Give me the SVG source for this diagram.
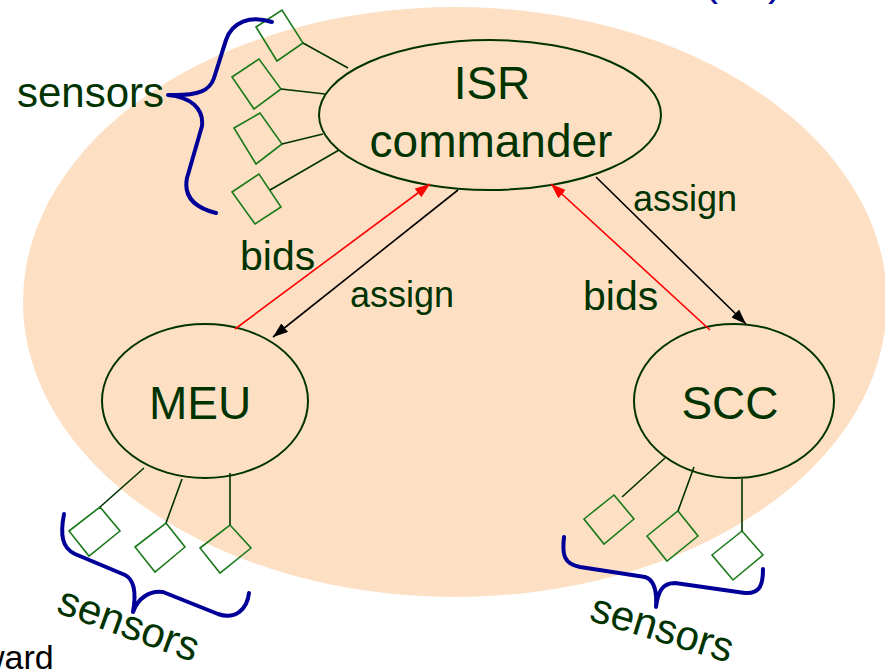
<svg xmlns="http://www.w3.org/2000/svg" width="885" height="671" viewBox="0 0 885 671">
<style>
text{font-family:"Liberation Sans",Arial,sans-serif;fill:#003300}
.node{fill:none;stroke:#003300;stroke-width:2}
.sq{fill:none;stroke:#1a7a1a;stroke-width:1.6}
.wire{stroke:#003300;stroke-width:1.6;fill:none}
.brace{fill:none;stroke:#000099;stroke-width:4;stroke-linecap:round;stroke-linejoin:round}
.lbl{font-size:46px;text-anchor:middle}
.sn{font-size:42px}
.red{stroke:#ff0000;stroke-width:1.6;fill:none}
.blk{stroke:#000000;stroke-width:1.6;fill:none}
</style>
<defs>
<marker id="ahR" markerUnits="userSpaceOnUse" viewBox="0 0 15 11" markerWidth="15" markerHeight="11" refX="15" refY="5.5" orient="auto"><path d="M0,0 L15,5.5 L0,11 z" fill="#ff0000"/></marker>
<marker id="ahK" markerUnits="userSpaceOnUse" viewBox="0 0 15 11" markerWidth="15" markerHeight="11" refX="15" refY="5.5" orient="auto"><path d="M0,0 L15,5.5 L0,11 z" fill="#000000"/></marker>
</defs>

<ellipse id="domain" cx="455" cy="302" rx="432" ry="295" fill="#fde0c4"/>

<text x="704" y="-5" font-size="42" style="fill:#000099">(</text>
<text x="768" y="-5" font-size="42" style="fill:#000099">)</text>

<g id="isr-sensors">
<polygon class="sq" points="256,27 282,10 303,43 277,61"/>
<polygon class="sq" points="232,77 259,59 281,89 254,109"/>
<polygon class="sq" points="234,128 260,113 282,144 256,164"/>
<polygon class="sq" points="232,192 259,174 281,207 255,224"/>
<path class="wire" d="M303,43 L348,68 M281,89 L325,94 M282,144 L323,134 M270,190 L339,150"/>
<path class="brace" d="M272,22 C250,15 232,22 226,40 L214,78 C210,90 200,96 168,95 C190,97 204,108 202,126 L187,178 C183,198 196,208 216,213"/>
<text class="sn" x="17" y="107">sensors</text>
</g>

<g id="isr">
<ellipse class="node" cx="490" cy="115" rx="171" ry="75"/>
<text class="lbl" x="492" y="99">ISR</text>
<text class="lbl" x="491" y="157">commander</text>
</g>

<g id="meu">
<ellipse class="node" cx="205" cy="401" rx="103" ry="77"/>
<text class="lbl" x="200" y="419">MEU</text>
</g>

<g id="scc">
<ellipse class="node" cx="734" cy="401" rx="100" ry="77"/>
<text class="lbl" x="730" y="419">SCC</text>
</g>

<g id="meu-sensors">
<polygon class="sq" points="100,507 120,531 89,556 69,531"/>
<polygon class="sq" points="166,523 185,547 155,572 135,547"/>
<polygon class="sq" points="230,525 251,548 220,573 200,548"/>
<path class="wire" d="M144,468 L100,507 M182,479 L166,523 M230,473 L230,525"/>
<path class="brace" d="M64,514 C60,535 62,548 75,554 L125,575 C135,580 136,595 133,612 C138,598 150,590 163,592 L218,614 C235,620 247,610 249,593"/>
<text class="sn" x="55" y="612" transform="rotate(20 55 612)">sensors</text>
</g>

<g id="scc-sensors">
<polygon class="sq" points="614,495 634,519 604,544 584,519"/>
<polygon class="sq" points="678,511 698,536 667,561 647,536"/>
<polygon class="sq" points="742,531 763,555 733,580 712,555"/>
<path class="wire" d="M665,458 L622,497 M694,467 L678,511 M742,479 L742,531"/>
<path class="brace" d="M564,537 C562,555 564,564 580,567 L645,577 C655,580 657,592 656,607 C658,592 662,583 675,583 L745,593 C760,594 763,585 763,569"/>
<text class="sn" x="588" y="620" transform="rotate(17 588 620)">sensors</text>
</g>

<g id="connectors">
<path class="red" d="M235,329 L430,184" marker-end="url(#ahR)"/>
<path class="blk" d="M458,190 L273,337" marker-end="url(#ahK)"/>
<path class="blk" d="M596,177 L746,324" marker-end="url(#ahK)"/>
<path class="red" d="M710,330 L551,184" marker-end="url(#ahR)"/>
<text x="240" y="270" font-size="41">bids</text>
<text x="350" y="307" font-size="36">assign</text>
<text x="633" y="211" font-size="36">assign</text>
<text x="583" y="310" font-size="41">bids</text>
</g>

<text x="-20" y="669" font-size="34" style="fill:#000000">ward</text>
</svg>
